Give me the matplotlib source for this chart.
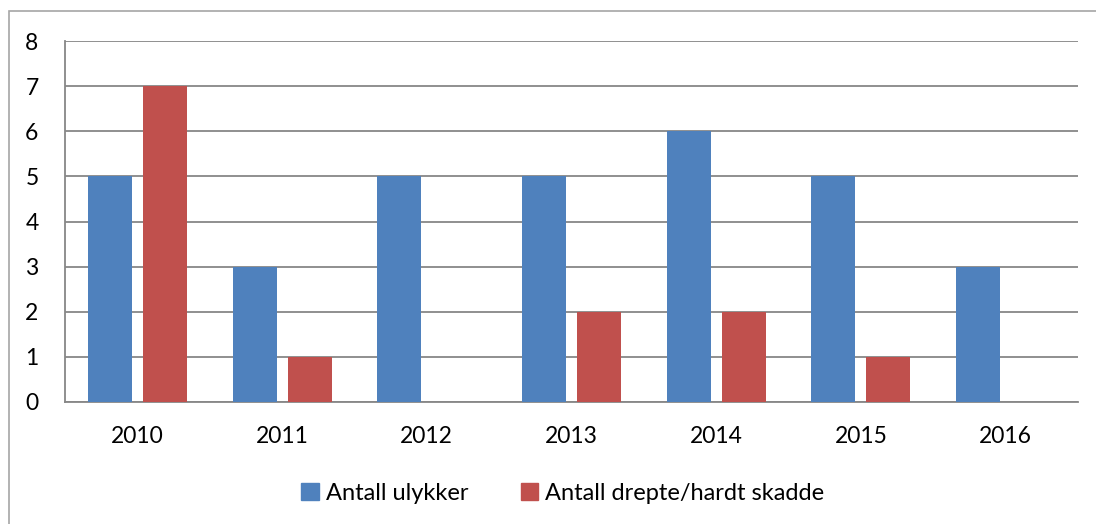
import numpy as np
import matplotlib
matplotlib.use("Agg")
import matplotlib.pyplot as plt
from matplotlib.patches import Rectangle, Patch

# data
years = ["2010", "2011", "2012", "2013", "2014", "2015", "2016"]
ulykker = [5, 3, 5, 5, 6, 5, 3]
drepte = [7, 1, 0, 2, 2, 1, 0]
yticks = [0, 1, 2, 3, 4, 5, 6, 7, 8]

blue = "#4F81BD"
red = "#C0504D"
grid = "#878787"

plt.rcParams['font.family'] = ['Lato', 'DejaVu Sans']

fig = plt.figure(figsize=(10.96, 5.24), dpi=100)
ax = fig.add_axes([65 / 1096, 1 - 402 / 524, (1078 - 65) / 1096, (402 - 41) / 524])

x = np.arange(len(years))
w = 0.304
off = 0.19
ax.bar(x - off, ulykker, w, color=blue, zorder=3)
ax.bar(x + off, drepte, w, color=red, zorder=3)

ax.set_xlim(-0.5, len(years) - 0.5)
ax.set_ylim(0, 8)
ax.set_yticks(yticks)
ax.set_xticks(x)
ax.set_xticklabels(years)
ax.tick_params(axis='both', length=0, labelsize=16.5, colors="black")
ax.tick_params(axis='y', pad=19)
ax.tick_params(axis='x', pad=17)
ax.yaxis.grid(True, color=grid, linewidth=1.3, zorder=0)

for s in ["top", "right"]:
    ax.spines[s].set_visible(False)
for s in ["left", "bottom"]:
    ax.spines[s].set_color(grid)
    ax.spines[s].set_linewidth(1.3)

# outer chart border
fig.patches.append(Rectangle((9 / 1096, -0.1), 1.2, 1 - 11 / 524 + 0.1,
                             transform=fig.transFigure, fill=False,
                             edgecolor="#A6A6A6", linewidth=1.2))

handles = [Patch(color=blue, label="Antall ulykker"),
           Patch(color=red, label="Antall drepte/hardt skadde")]
fig.legend(handles=handles, loc="center", bbox_to_anchor=(563 / 1096, 1 - 493 / 524),
           ncol=2, frameon=False, fontsize=17, handlelength=0.75, handleheight=0.75,
           handletextpad=0.3, columnspacing=2.2)

fig.savefig("out.png", dpi=100)
